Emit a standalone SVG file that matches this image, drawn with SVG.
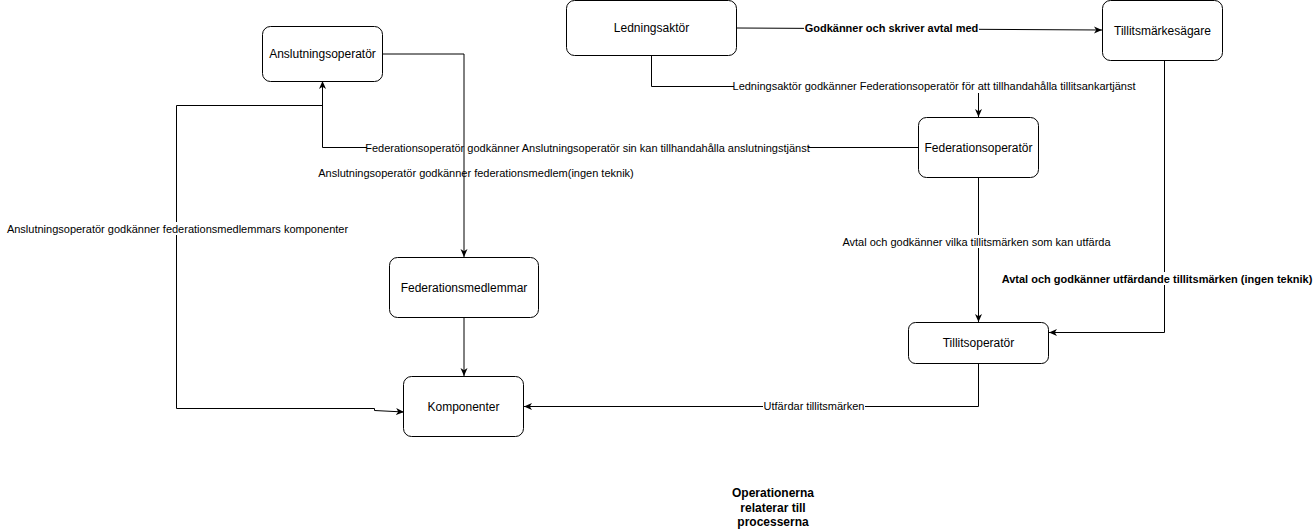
<svg xmlns="http://www.w3.org/2000/svg" width="1314" height="530" viewBox="0 0 1314 530">
  <defs>
    <style>
      .node rect { fill: #ffffff; stroke: #000000; stroke-width: 1; }
      .node text { font-family: "Liberation Sans", Arial, sans-serif; font-size: 12px; fill: #000000; text-anchor: middle; }
      .edge { fill: none; stroke: #000000; stroke-width: 1; }
      .arrow { marker-end: url(#arrowhead); }
      .lbl { font-family: "Liberation Sans", Arial, sans-serif; font-size: 11px; fill: #000000; text-anchor: middle; }
      .bold { font-weight: bold; }
      .lblbg { fill: #ffffff; stroke: none; }
      .note { font-family: "Liberation Sans", Arial, sans-serif; font-size: 12px; font-weight: bold; fill: #000000; text-anchor: middle; }
    </style>
    <marker id="arrowhead" viewBox="0 0 8 8" refX="8" refY="4" markerWidth="8" markerHeight="8" markerUnits="userSpaceOnUse" orient="auto">
      <path d="M0,0.5 L8,4 L0,7.5 L2.2,4 Z" fill="#000000"/>
    </marker>
  </defs>
  <rect x="0" y="0" width="1314" height="530" fill="#ffffff"/>

  <g id="connectors">
    <!-- Ledningsaktör -> Tillitsmärkesägare -->
    <path class="edge arrow" d="M737,28 L1102,30"/>
    <rect class="lblbg" x="804" y="21" width="175" height="13"/>
    <text class="lbl bold" x="891.5" y="31.5">Godkänner och skriver avtal med</text>

    <!-- Ledningsaktör -> Federationsoperatör -->
    <path class="edge arrow" d="M651.5,55 V86.5 H978.5 V117"/>
    <rect class="lblbg" x="734" y="80" width="400" height="13"/>
    <text class="lbl" x="934" y="90">Ledningsaktör godkänner Federationsoperatör för att tillhandahålla tillitsankartjänst</text>

    <!-- Federationsoperatör -> Anslutningsoperatör -->
    <path class="edge arrow" d="M918,147.5 H322.5 V81"/>
    <rect class="lblbg" x="367" y="141" width="441" height="13"/>
    <text class="lbl" x="587.5" y="151.5">Federationsoperatör godkänner Anslutningsoperatör sin kan tillhandahålla anslutningstjänst</text>

    <!-- label for Anslutningsoperatör -> Federationsmedlemmar -->
    <text class="lbl" x="476" y="177">Anslutningsoperatör godkänner federationsmedlem(ingen teknik)</text>
    <!-- Anslutningsoperatör -> Federationsmedlemmar -->
    <path class="edge arrow" d="M382,54 H464 V257"/>

    <!-- Federationsmedlemmar -> Komponenter -->
    <path class="edge arrow" d="M464,317 V376"/>

    <!-- Anslutningsoperatör -> Komponenter -->
    <path class="edge arrow" d="M322.5,81 V105.5 H176.5 V408.5 H374.5 V410.5 L404,412"/>
    <rect class="lblbg" x="7" y="222" width="342" height="13"/>
    <text class="lbl" x="177.5" y="232.5">Anslutningsoperatör godkänner federationsmedlemmars komponenter</text>

    <!-- Federationsoperatör -> Tillitsoperatör -->
    <path class="edge arrow" d="M978.5,177 V322"/>
    <rect class="lblbg" x="842" y="235" width="270" height="13"/>
    <text class="lbl" x="976.5" y="245.5">Avtal och godkänner vilka tillitsmärken som kan utfärda</text>

    <!-- Tillitsmärkesägare -> Tillitsoperatör -->
    <path class="edge arrow" d="M1164.5,61 V332.5 H1049"/>
    <rect class="lblbg" x="999" y="272" width="315" height="13"/>
    <text class="lbl bold" x="1157" y="282.5">Avtal och godkänner utfärdande tillitsmärken (ingen teknik)</text>

    <!-- Tillitsoperatör -> Komponenter -->
    <path class="edge arrow" d="M978.5,363 V406.5 H524"/>
    <rect class="lblbg" x="763" y="400" width="102" height="13"/>
    <text class="lbl" x="814" y="410">Utfärdar tillitsmärken</text>
  </g>

  <g id="node-anslutningsoperator" class="node">
    <rect x="262.5" y="26.5" width="120" height="55" rx="8" ry="8"/>
    <text x="322.5" y="58">Anslutningsoperatör</text>
  </g>
  <g id="node-ledningsaktor" class="node">
    <rect x="566.5" y="0.5" width="170" height="55" rx="8" ry="8"/>
    <text x="651.5" y="32">Ledningsaktör</text>
  </g>
  <g id="node-tillitsmarkesagare" class="node">
    <rect x="1102.5" y="0.5" width="120" height="60" rx="8" ry="8"/>
    <text x="1162.5" y="34.5">Tillitsmärkesägare</text>
  </g>
  <g id="node-federationsoperator" class="node">
    <rect x="918.5" y="117.5" width="120" height="60" rx="8" ry="8"/>
    <text x="978.5" y="151.5">Federationsoperatör</text>
  </g>
  <g id="node-federationsmedlemmar" class="node">
    <rect x="389.5" y="257.5" width="149" height="60" rx="8" ry="8"/>
    <text x="464" y="291.5">Federationsmedlemmar</text>
  </g>
  <g id="node-komponenter" class="node">
    <rect x="403.5" y="376.5" width="120" height="60" rx="8" ry="8"/>
    <text x="463.5" y="410.5">Komponenter</text>
  </g>
  <g id="node-tillitsoperator" class="node">
    <rect x="908.5" y="322.5" width="140" height="41" rx="7" ry="7"/>
    <text x="978.5" y="347">Tillitsoperatör</text>
  </g>

  <g id="note-operationerna">
    <text class="note" x="773" y="497">Operationerna</text>
    <text class="note" x="773" y="511.5">relaterar till</text>
    <text class="note" x="773" y="526">processerna</text>
  </g>
</svg>
